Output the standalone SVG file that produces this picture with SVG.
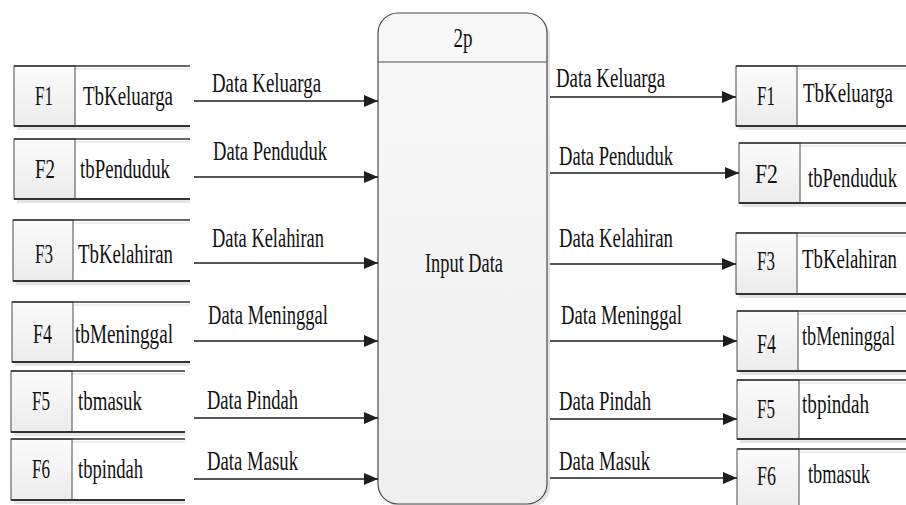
<svg xmlns="http://www.w3.org/2000/svg" width="906" height="505" viewBox="0 0 906 505">
<defs>
<linearGradient id="cellG" x1="0" y1="0" x2="0" y2="1">
<stop offset="0" stop-color="#fbfbfb"/>
<stop offset="1" stop-color="#ececec"/>
</linearGradient>
<linearGradient id="procG" x1="0" y1="0" x2="0" y2="1">
<stop offset="0" stop-color="#f8f8f8"/>
<stop offset="1" stop-color="#efefef"/>
</linearGradient>
<marker id="arr" viewBox="0 0 14 12" refX="14" refY="6" markerWidth="14" markerHeight="12" markerUnits="userSpaceOnUse" orient="auto">
<path d="M0,0 L14,6 L0,12 Z" fill="#1e1e1e"/>
</marker>
<style>
text{font-family:"Liberation Serif","Times New Roman",serif;font-size:27px;fill:#111}
.mid{text-anchor:middle}
.shadow{fill:#e4e4e4}
.body{fill:#ffffff}
.cell{fill:url(#cellG);stroke:#4a4a4a;stroke-width:1}
.top{stroke:#333;stroke-width:1.5}
.bot{stroke:#333;stroke-width:2}
.inner{stroke:#ededed;stroke-width:2}
.flow{stroke:#1e1e1e;stroke-width:1.5;fill:none;marker-end:url(#arr)}
.proc{fill:url(#procG);stroke:#4a4a4a;stroke-width:1.2}
</style>
</defs>
<rect width="906" height="505" fill="#ffffff"/>

<!-- Process -->
<g id="proc-2p">
<rect x="381" y="16" width="169" height="491" rx="20" class="shadow"/>
<rect x="378" y="13" width="169" height="491" rx="20" class="proc"/>
<line x1="378" y1="62" x2="547" y2="62" stroke="#4a4a4a" stroke-width="1.2"/>
<text x="463" y="47" class="mid" textLength="19" lengthAdjust="spacingAndGlyphs">2p</text>
<text x="464" y="272" class="mid" textLength="78" lengthAdjust="spacingAndGlyphs">Input Data</text>
</g>

<!-- Left data stores -->
<g id="ls-f1">
<rect x="17" y="126" width="173" height="4" class="shadow"/>
<rect x="75" y="66" width="115" height="60" class="body"/>
<line x1="75" y1="69" x2="190" y2="69" class="inner"/>
<rect x="14" y="66" width="61" height="60" class="cell"/>
<line x1="14" y1="66" x2="190" y2="66" class="top"/>
<line x1="14" y1="126" x2="190" y2="126" class="bot"/>
<text x="35" y="105" textLength="18" lengthAdjust="spacingAndGlyphs">F1</text>
<text x="83" y="105" textLength="90" lengthAdjust="spacingAndGlyphs">TbKeluarga</text>
</g>
<g id="ls-f2">
<rect x="17" y="199" width="173" height="4" class="shadow"/>
<rect x="75" y="139" width="115" height="60" class="body"/>
<line x1="75" y1="142" x2="190" y2="142" class="inner"/>
<rect x="14" y="139" width="61" height="60" class="cell"/>
<line x1="14" y1="139" x2="190" y2="139" class="top"/>
<line x1="14" y1="199" x2="190" y2="199" class="bot"/>
<text x="35" y="178" textLength="20" lengthAdjust="spacingAndGlyphs">F2</text>
<text x="80" y="178" textLength="90" lengthAdjust="spacingAndGlyphs">tbPenduduk</text>
</g>
<g id="ls-f3">
<rect x="16" y="281" width="174" height="4" class="shadow"/>
<rect x="73" y="220" width="117" height="61" class="body"/>
<line x1="73" y1="223" x2="190" y2="223" class="inner"/>
<rect x="13" y="220" width="60" height="61" class="cell"/>
<line x1="13" y1="220" x2="190" y2="220" class="top"/>
<line x1="13" y1="281" x2="190" y2="281" class="bot"/>
<text x="35" y="263" textLength="18" lengthAdjust="spacingAndGlyphs">F3</text>
<text x="78" y="263" textLength="95" lengthAdjust="spacingAndGlyphs">TbKelahiran</text>
</g>
<g id="ls-f4">
<rect x="15" y="362" width="175" height="4" class="shadow"/>
<rect x="73" y="302" width="117" height="60" class="body"/>
<line x1="73" y1="305" x2="190" y2="305" class="inner"/>
<rect x="12" y="302" width="61" height="60" class="cell"/>
<line x1="12" y1="302" x2="190" y2="302" class="top"/>
<line x1="12" y1="362" x2="190" y2="362" class="bot"/>
<text x="33" y="343" textLength="19" lengthAdjust="spacingAndGlyphs">F4</text>
<text x="75" y="343" textLength="98" lengthAdjust="spacingAndGlyphs">tbMeninggal</text>
</g>
<g id="ls-f5">
<rect x="14" y="432" width="171" height="4" class="shadow"/>
<rect x="72" y="371" width="113" height="61" class="body"/>
<line x1="72" y1="374" x2="185" y2="374" class="inner"/>
<rect x="11" y="371" width="61" height="61" class="cell"/>
<line x1="11" y1="371" x2="185" y2="371" class="top"/>
<line x1="11" y1="432" x2="185" y2="432" class="bot"/>
<text x="32" y="410" textLength="18" lengthAdjust="spacingAndGlyphs">F5</text>
<text x="78" y="410" textLength="64" lengthAdjust="spacingAndGlyphs">tbmasuk</text>
</g>
<g id="ls-f6">
<rect x="14" y="500" width="171" height="4" class="shadow"/>
<rect x="72" y="439" width="113" height="61" class="body"/>
<line x1="72" y1="442" x2="185" y2="442" class="inner"/>
<rect x="11" y="439" width="61" height="61" class="cell"/>
<line x1="11" y1="439" x2="185" y2="439" class="top"/>
<line x1="11" y1="500" x2="185" y2="500" class="bot"/>
<text x="32" y="478" textLength="18" lengthAdjust="spacingAndGlyphs">F6</text>
<text x="78" y="478" textLength="65" lengthAdjust="spacingAndGlyphs">tbpindah</text>
</g>

<!-- Right data stores -->
<g id="rs-f1">
<rect x="739" y="126" width="167" height="4" class="shadow"/>
<rect x="797" y="66" width="109" height="60" class="body"/>
<line x1="797" y1="69" x2="906" y2="69" class="inner"/>
<rect x="736" y="66" width="61" height="60" class="cell"/>
<line x1="736" y1="66" x2="906" y2="66" class="top"/>
<line x1="736" y1="126" x2="906" y2="126" class="bot"/>
<text x="757" y="105" textLength="18" lengthAdjust="spacingAndGlyphs">F1</text>
<text x="803" y="102" textLength="90" lengthAdjust="spacingAndGlyphs">TbKeluarga</text>
</g>
<g id="rs-f2">
<rect x="742" y="203" width="164" height="4" class="shadow"/>
<rect x="800" y="143" width="106" height="60" class="body"/>
<line x1="800" y1="146" x2="906" y2="146" class="inner"/>
<rect x="739" y="143" width="61" height="60" class="cell"/>
<line x1="739" y1="143" x2="906" y2="143" class="top"/>
<line x1="739" y1="203" x2="906" y2="203" class="bot"/>
<text x="755" y="183" textLength="23" lengthAdjust="spacingAndGlyphs">F2</text>
<text x="808" y="187" textLength="89" lengthAdjust="spacingAndGlyphs">tbPenduduk</text>
</g>
<g id="rs-f3">
<rect x="739" y="294" width="167" height="4" class="shadow"/>
<rect x="797" y="233" width="109" height="61" class="body"/>
<line x1="797" y1="236" x2="906" y2="236" class="inner"/>
<rect x="736" y="233" width="61" height="61" class="cell"/>
<line x1="736" y1="233" x2="906" y2="233" class="top"/>
<line x1="736" y1="294" x2="906" y2="294" class="bot"/>
<text x="757" y="270" textLength="18" lengthAdjust="spacingAndGlyphs">F3</text>
<text x="802" y="268" textLength="95" lengthAdjust="spacingAndGlyphs">TbKelahiran</text>
</g>
<g id="rs-f4">
<rect x="740" y="371" width="166" height="4" class="shadow"/>
<rect x="798" y="311" width="108" height="60" class="body"/>
<line x1="798" y1="314" x2="906" y2="314" class="inner"/>
<rect x="737" y="311" width="61" height="60" class="cell"/>
<line x1="737" y1="311" x2="906" y2="311" class="top"/>
<line x1="737" y1="371" x2="906" y2="371" class="bot"/>
<text x="757" y="353" textLength="19" lengthAdjust="spacingAndGlyphs">F4</text>
<text x="802" y="345" textLength="93" lengthAdjust="spacingAndGlyphs">tbMeninggal</text>
</g>
<g id="rs-f5">
<rect x="740" y="439" width="166" height="4" class="shadow"/>
<rect x="799" y="380" width="107" height="59" class="body"/>
<line x1="799" y1="383" x2="906" y2="383" class="inner"/>
<rect x="737" y="380" width="62" height="59" class="cell"/>
<line x1="737" y1="380" x2="906" y2="380" class="top"/>
<line x1="737" y1="439" x2="906" y2="439" class="bot"/>
<text x="757" y="418" textLength="18" lengthAdjust="spacingAndGlyphs">F5</text>
<text x="802" y="413" textLength="67" lengthAdjust="spacingAndGlyphs">tbpindah</text>
</g>
<g id="rs-f6">
<rect x="799" y="449" width="107" height="60" class="body"/>
<line x1="799" y1="452" x2="906" y2="452" class="inner"/>
<rect x="737" y="449" width="62" height="60" class="cell"/>
<line x1="737" y1="449" x2="906" y2="449" class="top"/>
<text x="757" y="485" textLength="19" lengthAdjust="spacingAndGlyphs">F6</text>
<text x="808" y="483" textLength="62" lengthAdjust="spacingAndGlyphs">tbmasuk</text>
</g>

<!-- Connectors -->
<g id="connectors">
<line x1="194" y1="101" x2="378" y2="101" class="flow"/>
<line x1="194" y1="177" x2="378" y2="177" class="flow"/>
<line x1="194" y1="263" x2="378" y2="263" class="flow"/>
<line x1="194" y1="341" x2="378" y2="341" class="flow"/>
<line x1="194" y1="418" x2="378" y2="418" class="flow"/>
<line x1="194" y1="479" x2="378" y2="479" class="flow"/>
<line x1="550" y1="97" x2="736" y2="97" class="flow"/>
<line x1="550" y1="173" x2="739" y2="173" class="flow"/>
<line x1="550" y1="264" x2="736" y2="264" class="flow"/>
<line x1="550" y1="341" x2="737" y2="341" class="flow"/>
<line x1="550" y1="419" x2="737" y2="419" class="flow"/>
<line x1="550" y1="478" x2="737" y2="478" class="flow"/>
<text x="212" y="92" textLength="109" lengthAdjust="spacingAndGlyphs">Data Keluarga</text>
<text x="213" y="160" textLength="114" lengthAdjust="spacingAndGlyphs">Data Penduduk</text>
<text x="212" y="247" textLength="112" lengthAdjust="spacingAndGlyphs">Data Kelahiran</text>
<text x="208" y="324" textLength="120" lengthAdjust="spacingAndGlyphs">Data Meninggal</text>
<text x="207" y="409" textLength="91" lengthAdjust="spacingAndGlyphs">Data Pindah</text>
<text x="207" y="470" textLength="91" lengthAdjust="spacingAndGlyphs">Data Masuk</text>
<text x="556" y="87" textLength="109" lengthAdjust="spacingAndGlyphs">Data Keluarga</text>
<text x="559" y="165" textLength="114" lengthAdjust="spacingAndGlyphs">Data Penduduk</text>
<text x="559" y="247" textLength="114" lengthAdjust="spacingAndGlyphs">Data Kelahiran</text>
<text x="561" y="324" textLength="121" lengthAdjust="spacingAndGlyphs">Data Meninggal</text>
<text x="559" y="410" textLength="92" lengthAdjust="spacingAndGlyphs">Data Pindah</text>
<text x="559" y="470" textLength="91" lengthAdjust="spacingAndGlyphs">Data Masuk</text>
</g>
</svg>
